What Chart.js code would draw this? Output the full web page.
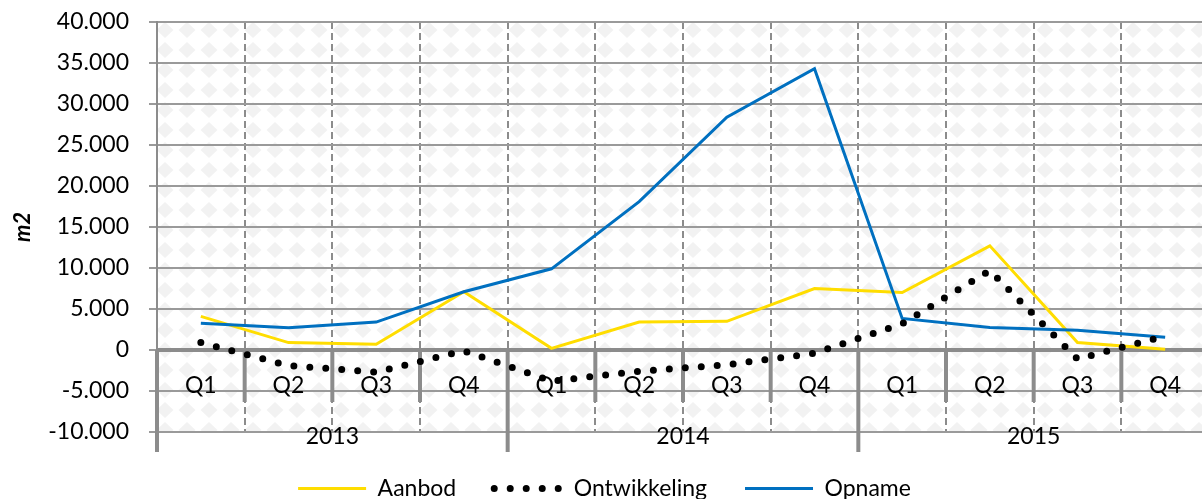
<!DOCTYPE html>
<html>
<head>
<meta charset="utf-8">
<script src="https://cdn.jsdelivr.net/npm/chart.js@4.4.1/dist/chart.umd.min.js"></script>
<style>
  html, body { margin: 0; padding: 0; background: #fff; overflow: hidden; }
  #wrap { width: 1202px; height: 499px; overflow: hidden; }
</style>
</head>
<body>
<div id="wrap"><canvas id="lineChart" width="1212" height="499"></canvas></div>
<script>
const quarters = ['Q1', 'Q2', 'Q3', 'Q4', 'Q1', 'Q2', 'Q3', 'Q4', 'Q1', 'Q2', 'Q3', 'Q4'];
const years = ['2013', '2014', '2015'];
const aanbod = [4100, 900, 700, 7100, 200, 3400, 3500, 7500, 7000, 12700, 900, 100];
const ontwikkeling = [900, -1900, -2700, -100, -3800, -2600, -1800, -400, 3200, 9700, -1100, 1700];
const opname = [3250, 2700, 3400, 7100, 9900, 18100, 28400, 34300, 3850, 2750, 2400, 1550];
const yTicks = [-10000, -5000, 0, 5000, 10000, 15000, 20000, 25000, 30000, 35000, 40000];

const FONT = 'Lato';
const AXIS_GREY = '#8c8c8c';
Chart.defaults.color = '#000';
Chart.defaults.font.family = FONT;

function fmt(v) {
  const s = String(Math.abs(v)).replace(/\B(?=(\d{3})+(?!\d))/g, '.');
  return (v < 0 ? '-' : '') + s;
}

// light grey diamond fill like the excel pattern
function diamondPattern(ctx) {
  const tile = document.createElement('canvas');
  tile.width = 22;
  tile.height = 20;
  const t = tile.getContext('2d');
  t.fillStyle = '#fff';
  t.fillRect(0, 0, 22, 20);
  t.fillStyle = '#f2f2f2';
  t.beginPath();
  t.moveTo(11, 2);
  t.lineTo(19.5, 10);
  t.lineTo(11, 18);
  t.lineTo(2.5, 10);
  t.closePath();
  t.fill();
  return ctx.createPattern(tile, 'repeat');
}

// zero axis, category ticks, quarter + year labels
const axisDecor = {
  id: 'axisDecor',
  beforeDraw(chart) {
    const {ctx, chartArea: a} = chart;
    ctx.save();
    ctx.fillStyle = diamondPattern(ctx);
    ctx.fillRect(a.left, a.top, a.right - a.left, a.bottom - a.top);
    ctx.restore();
  },
  beforeDatasetsDraw(chart) {
    const {ctx, chartArea: a, scales: {x, y}} = chart;
    const y0 = y.getPixelForValue(0);
    ctx.save();
    ctx.strokeStyle = AXIS_GREY;
    ctx.lineWidth = 4;
    ctx.beginPath();
    ctx.moveTo(a.left, y0);
    ctx.lineTo(a.right, y0);
    ctx.stroke();
    for (let b = 0; b <= quarters.length; b++) {
      const px = x.getPixelForValue(b - 0.5);
      const len = b % 4 === 0 ? 102 : 52;
      ctx.beginPath();
      ctx.moveTo(px, y0);
      ctx.lineTo(px, y0 + len);
      ctx.stroke();
    }
    ctx.fillStyle = '#000';
    ctx.font = '23px ' + FONT;
    ctx.textAlign = 'center';
    ctx.textBaseline = 'middle';
    quarters.forEach((q, i) => ctx.fillText(q, x.getPixelForValue(i), y0 + 36));
    years.forEach((yr, j) => ctx.fillText(yr, x.getPixelForValue(j * 4 + 1.5), a.bottom + 5));
    ctx.restore();
  }
};

const legendHeight = {
  id: 'legendHeight',
  beforeInit(chart) {
    const fit = chart.legend.fit;
    chart.legend.fit = function () {
      fit.call(this);
      this.height = 60;
    };
  }
};

const ctxLine = document.getElementById('lineChart').getContext('2d');

const lineChart = new Chart(ctxLine, {
  type: 'line',
  data: {
    labels: quarters,
    datasets: [{
      label: 'Aanbod',
      data: aanbod,
      borderColor: '#FFDD00',
      backgroundColor: '#FFDD00',
      borderWidth: 3,
      pointRadius: 0,
      tension: 0,
      order: 2,
    }, {
      label: 'Ontwikkeling',
      data: ontwikkeling,
      borderColor: '#000',
      backgroundColor: '#000',
      borderWidth: 7,
      borderDash: [0, 16],
      borderCapStyle: 'round',
      pointRadius: 0,
      tension: 0,
      order: 0,
    }, {
      label: 'Opname',
      data: opname,
      borderColor: '#0070C0',
      backgroundColor: '#0070C0',
      borderWidth: 3,
      pointRadius: 0,
      tension: 0,
      order: 1,
    }]
  },
  options: {
    responsive: false,
    animation: false,
    layout: {
      padding: { top: 22, right: 3, bottom: 0, left: 0 }
    },
    plugins: {
      tooltip: { enabled: false },
      legend: {
        position: 'bottom',
        labels: {
          font: { family: FONT, size: 23 },
          color: '#000',
          padding: 38,
          usePointStyle: true,
          pointStyleWidth: 68,
          generateLabels: (chart) => chart.data.datasets.map((ds, i) => ({
            text: ds.label,
            fillStyle: ds.borderColor,
            strokeStyle: ds.borderColor,
            lineWidth: ds.borderWidth,
            lineDash: ds.borderDash || [],
            lineCap: ds.borderCapStyle || 'butt',
            pointStyle: 'line',
            fontColor: '#000',
            hidden: false,
            datasetIndex: i,
          })),
        }
      }
    },
    scales: {
      x: {
        type: 'category',
        offset: true,
        ticks: { display: false },
        border: { display: false, dash: [7, 4] },
        grid: {
          offset: true,
          color: AXIS_GREY,
          lineWidth: 2,
          drawTicks: false,
        },
        afterFit: (scale) => { scale.height = 7; },
      },
      y: {
        min: yTicks[0],
        max: yTicks[yTicks.length - 1],
        afterBuildTicks: (scale) => { scale.ticks = yTicks.map(v => ({ value: v })); },
        ticks: {
          font: { family: FONT, size: 23 },
          color: '#000',
          padding: 20,
          callback: (v) => fmt(v),
        },
        border: { display: true, color: AXIS_GREY, width: 2 },
        grid: { color: '#9a9a9a', lineWidth: 2, tickLength: 8 },
        title: {
          display: true,
          text: 'm2',
          font: { family: FONT, size: 22, weight: 'bold', style: 'italic' },
          padding: { top: 10, bottom: 0 },
        },
        afterFit: (scale) => {
          scale.width = 157;
          scale.paddingTop = 0;
          scale.paddingBottom = 0;
        },
      }
    }
  },
  plugins: [axisDecor, legendHeight]
});
</script>
</body>
</html>
